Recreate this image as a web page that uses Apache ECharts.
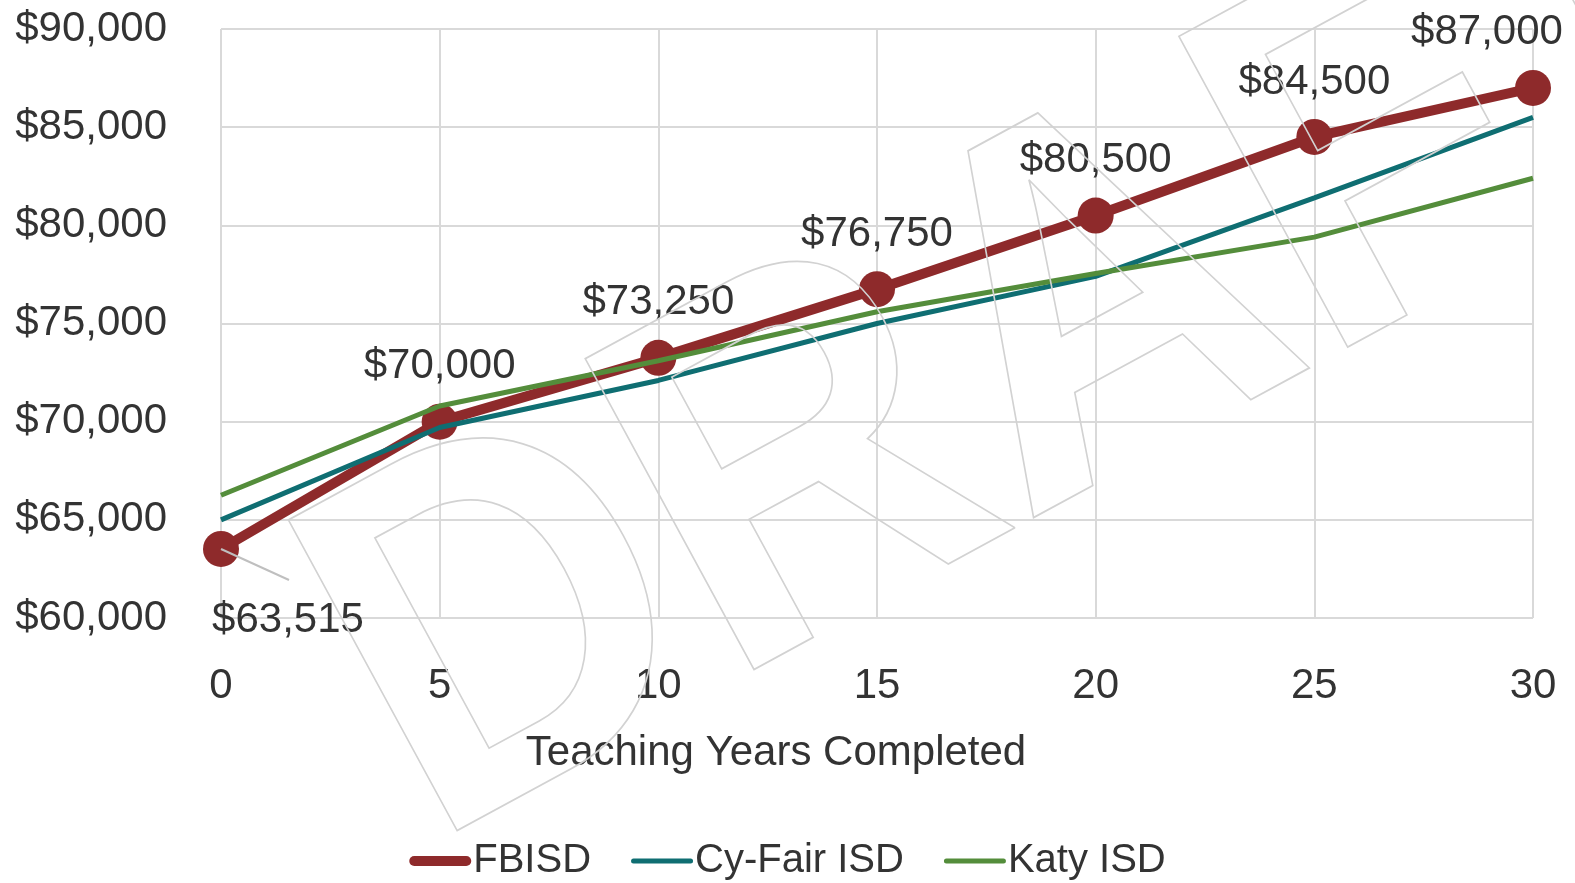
<!DOCTYPE html>
<html>
<head>
<meta charset="utf-8">
<script src="https://cdn.jsdelivr.net/npm/echarts@6/dist/echarts.min.js"></script>
<style>
  html, body { margin: 0; padding: 0; background: #fff; }
  #chart { width: 1575px; height: 883px; }
</style>
</head>
<body>
<div id="chart"></div>
<script>
var years = [0, 5, 10, 15, 20, 25, 30];
var fbisd = [63515, 70000, 73250, 76750, 80500, 84500, 87000];
var cyFair = [65000, 69700, 72100, 75000, 77400, 81400, 85500];
var katy = [66250, 70800, 73100, 75600, 77550, 79400, 82400];
var seriesNames = ['FBISD', 'Cy-Fair ISD', 'Katy ISD'];
var xTitle = 'Teaching Years Completed';

var fontFamily = '"Liberation Sans", Arial, sans-serif';
var textColor = '#333';
var gridColor = '#d9d9d9';

function money(v) {
    return '$' + v.toLocaleString('en-US');
}

function pairs(values) {
    return values.map(function (v, i) { return [years[i], v]; });
}

var chart = echarts.init(document.getElementById('chart'));

chart.setOption({
    animation: false,
    grid: { left: 221, right: 42, top: 29, bottom: 265, outerBoundsMode: 'none' },
    xAxis: {
        type: 'value',
        min: 0,
        max: 30,
        interval: 5,
        name: xTitle,
        nameLocation: 'middle',
        nameGap: 114,
        nameTextStyle: { fontSize: 42, color: textColor, fontFamily: fontFamily, padding: [0, 202, 0, 0] },
        axisLine: { show: false },
        axisTick: { show: false },
        axisLabel: { fontSize: 42, color: textColor, fontFamily: fontFamily, margin: 47 },
        splitLine: { show: true, lineStyle: { color: gridColor, width: 2 } }
    },
    yAxis: {
        type: 'value',
        min: 60000,
        max: 90000,
        interval: 5000,
        axisLine: { show: false },
        axisTick: { show: false },
        axisLabel: { fontSize: 42, color: textColor, fontFamily: fontFamily, margin: 54, formatter: money },
        splitLine: { show: true, lineStyle: { color: gridColor, width: 2 } }
    },
    legend: {
        bottom: -3,
        left: 'center',
        itemWidth: 62,
        itemHeight: 10,
        itemGap: 40,
        textStyle: { fontSize: 40, color: textColor, fontFamily: fontFamily, padding: [0, 0, 0, -3] },
        data: [
            { name: seriesNames[0], icon: 'path://M5,0 H57 A5,5 0 0 1 57,10 H5 A5,5 0 0 1 5,0 Z' },
            { name: seriesNames[1], icon: 'path://M2.5,0 H59.5 A2.5,2.5 0 0 1 59.5,5 H2.5 A2.5,2.5 0 0 1 2.5,0 Z' },
            { name: seriesNames[2], icon: 'path://M2.5,0 H59.5 A2.5,2.5 0 0 1 59.5,5 H2.5 A2.5,2.5 0 0 1 2.5,0 Z' }
        ]
    },
    graphic: [{
        id: 'draft',
        type: 'text',
        x: 362,
        y: 721,
        rotation: 28.5 * Math.PI / 180,
        scaleX: 0.91,
        z: 100,
        silent: true,
        style: {
            text: 'DRAFT',
            font: 'bold 514px "Liberation Sans", Arial, sans-serif',
            align: 'left',
            verticalAlign: 'middle',
            fill: 'none',
            stroke: '#d2d2d2',
            lineWidth: 1.8
        }
    }],
    series: [
        {
            name: seriesNames[0],
            type: 'line',
            z: 2,
            data: pairs(fbisd),
            symbol: 'circle',
            symbolSize: 36,
            lineStyle: { width: 10, color: '#8e2a2b' },
            itemStyle: { color: '#8e2a2b' },
            label: {
                show: true,
                position: 'top',
                distance: 16,
                fontSize: 42,
                color: textColor,
                fontFamily: fontFamily,
                formatter: function (p) { return money(p.value[1]); }
            },
            // first label goes below-right (with a leader), last one shifts left
            labelLayout: function (params) {
                if (params.dataIndex === 0) {
                    return { dx: 67, dy: 126 };
                }
                if (params.dataIndex === years.length - 1) {
                    return { dx: -46 };
                }
            }
        },
        {
            name: seriesNames[1],
            type: 'line',
            z: 3,
            data: pairs(cyFair),
            symbol: 'none',
            lineStyle: { width: 5, color: '#0f6e72' },
            itemStyle: { color: '#0f6e72' }
        },
        {
            name: seriesNames[2],
            type: 'line',
            z: 4,
            data: pairs(katy),
            symbol: 'none',
            lineStyle: { width: 5, color: '#548d3b' },
            itemStyle: { color: '#548d3b' }
        }
    ]
});

// leader line for the first label, anchored on the point through the scales
var p0 = chart.convertToPixel({ seriesIndex: 0 }, [years[0], fbisd[0]]);
chart.setOption({
    graphic: [{
        id: 'leader',
        type: 'line',
        z: 5,
        silent: true,
        shape: { x1: p0[0], y1: p0[1], x2: p0[0] + 68, y2: p0[1] + 31 },
        style: { stroke: '#bfbfbf', lineWidth: 2 }
    }]
});
</script>
</body>
</html>
